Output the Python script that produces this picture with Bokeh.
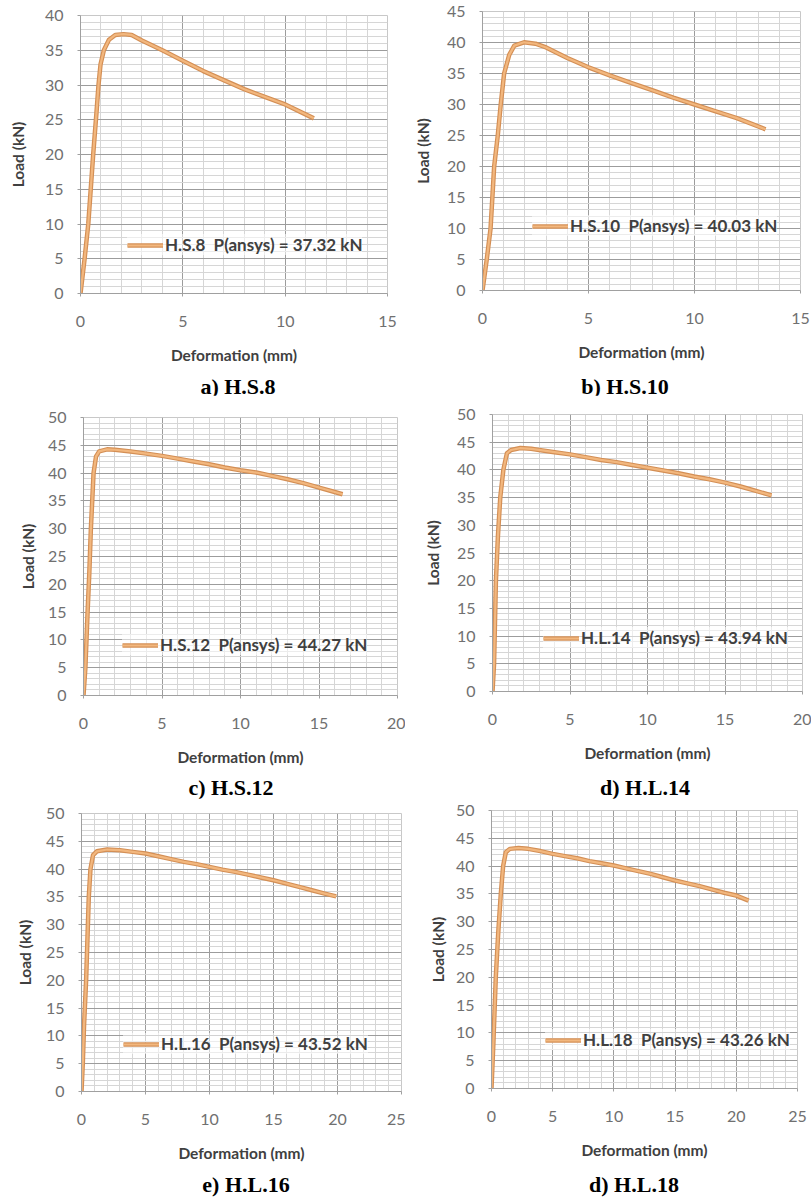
from bokeh.plotting import figure
from bokeh.layouts import column, row
from bokeh.models import Div, Legend, LegendItem, Range1d, SingleIntervalTicker
from bokeh.embed import file_html
from bokeh.resources import INLINE

# ---------------- data ----------------
hs8_x = [0, 0.2, 0.38, 0.62, 0.78, 0.88, 0.98, 1.14, 1.39, 1.7, 2.1, 2.5, 3.0, 4.0, 5.0, 6.0, 7.0, 8.0, 9.0, 10.0, 11.4]
hs8_y = [0, 5, 10, 20, 26, 30, 33, 35, 36.5, 37.2, 37.32, 37.2, 36.4, 35.0, 33.5, 32.0, 30.7, 29.4, 28.3, 27.2, 25.2]

hs10_x = [0, 0.2, 0.38, 0.55, 0.72, 0.86, 1.02, 1.26, 1.5, 1.96, 2.5, 3.0, 4.0, 5.0, 6.0, 7.0, 8.0, 9.0, 10.0, 11.0, 12.0, 13.35]
hs10_y = [0, 5, 10, 20, 25, 30, 35, 38, 39.5, 40.03, 39.8, 39.2, 37.5, 36.0, 34.7, 33.5, 32.3, 31.1, 30.0, 28.9, 27.8, 26.0]

hs12_x = [0, 0.12, 0.26, 0.37, 0.47, 0.64, 0.8, 1.0, 1.5, 2.0, 3, 4, 5, 6, 7, 8, 9, 10, 11, 12, 13, 14, 15, 16, 16.5]
hs12_y = [0, 5, 15, 22, 30, 40, 43, 43.9, 44.27, 44.2, 43.9, 43.5, 43.1, 42.6, 42.1, 41.6, 41.0, 40.5, 40.1, 39.5, 38.9, 38.2, 37.4, 36.6, 36.2]

hl14_x = [0, 0.1, 0.22, 0.35, 0.5, 0.7, 0.93, 1.2, 1.8, 2.5, 3, 4, 5, 6, 7, 8, 9, 10, 11, 12, 13, 14, 15, 16, 17, 18]
hl14_y = [0, 5, 20, 28, 35, 40, 43, 43.6, 43.94, 43.8, 43.6, 43.2, 42.8, 42.3, 41.8, 41.4, 40.9, 40.4, 39.9, 39.4, 38.8, 38.3, 37.7, 37.0, 36.2, 35.4]

hl16_x = [0, 0.1, 0.2, 0.36, 0.57, 0.7, 0.9, 1.2, 2.0, 3, 4, 5, 6, 7, 8, 9, 10, 11, 12, 13, 14, 15, 16, 17, 18, 19, 19.9]
hl16_y = [0, 5, 12, 20, 35, 40, 42.5, 43.2, 43.52, 43.4, 43.1, 42.8, 42.3, 41.8, 41.3, 40.9, 40.4, 39.9, 39.5, 39.0, 38.5, 38.0, 37.4, 36.8, 36.2, 35.6, 35.1]

hl18_x = [0, 0.15, 0.35, 0.55, 0.76, 0.95, 1.17, 1.5, 2.2, 3, 4, 5, 6, 7, 8, 9, 10, 11, 12, 13, 14, 15, 16, 17, 18, 19, 20, 21]
hl18_y = [0, 8, 20, 28, 35, 40, 42.5, 43.1, 43.26, 43.1, 42.7, 42.2, 41.8, 41.4, 40.9, 40.5, 40.1, 39.6, 39.1, 38.6, 38.0, 37.4, 36.9, 36.4, 35.8, 35.2, 34.7, 33.8]

legend_labels = [
    "H.S.8  P(ansys) = 37.32 kN",
    "H.S.10  P(ansys) = 40.03 kN",
    "H.S.12  P(ansys) = 44.27 kN",
    "H.L.14  P(ansys) = 43.94 kN",
    "H.L.16  P(ansys) = 43.52 kN",
    "H.L.18  P(ansys) = 43.26 kN",
]
captions = ["a) H.S.8", "b) H.S.10", "c) H.S.12", "d) H.L.14", "e) H.L.16", "d) H.L.18"]
x_max = [15, 15, 20, 20, 25, 25]
y_max = [40, 45, 50, 50, 50, 50]
x_label = "Deformation (mm)"
y_label = "Load (kN)"

series_x = [hs8_x, hs10_x, hs12_x, hl14_x, hl16_x, hl18_x]
series_y = [hs8_y, hs10_y, hs12_y, hl14_y, hl16_y, hl18_y]

# ---------------- layout (pixels) ----------------
fig_h = [371, 382, 374]      # figure height per row
cap_h = [24, 21, 26]         # caption strip height per row
cap_dy = [4, 0, 0]           # caption nudge per row
# W, left, frame_w, top, frame_h, legend_x, legend_y, ylabel_offset, caption_center_x
geom = [
    (405, 80, 307, 15, 278, 47, 38, 62, 238),
    (406, 77, 318, 11, 279, 50, 54, 59, 220),
    (405, 83, 314, 22, 278, 39, 40, 55, 231),
    (406, 87, 310, 19, 277, 51, 43, 59, 240),
    (405, 81, 320, 15, 278, 42, 37, 56, 246),
    (406, 86, 306, 12, 278, 54, 38, 53, 229),
]

panels = []
for i in range(6):
    W, L, FW, T, FH, lx, ly, yoff, ccx = geom[i]
    r = i // 2
    H = fig_h[r]
    p = figure(frame_width=FW, frame_height=FH, output_backend="svg", toolbar_location=None,
               x_range=Range1d(0, x_max[i]), y_range=Range1d(0, y_max[i]),
               min_border_left=L, min_border_right=W - L - FW,
               min_border_top=T, min_border_bottom=H - T - FH)
    p.background_fill_color = "white"
    p.border_fill_color = "white"
    p.outline_line_color = "#c8c8c8"

    for ax, lab in ((p.xaxis[0], x_label), (p.yaxis[0], y_label)):
        ax.ticker = SingleIntervalTicker(interval=5, num_minor_ticks=5)
        ax.axis_label = lab
        ax.axis_label_text_font = "Lato"
        ax.axis_label_text_font_style = "bold"
        ax.axis_label_text_font_size = "15.5px"
        ax.axis_label_text_color = "#404040"
        ax.major_label_text_font = "Lato"
        ax.major_label_text_font_size = "16px"
        ax.major_label_text_color = "#707070"
        ax.axis_line_color = "#a0a0a0"
        ax.major_tick_line_color = "#a0a0a0"
        ax.major_tick_in = 0
        ax.major_tick_out = 3
        ax.minor_tick_line_color = None

    p.xaxis[0].major_label_standoff = 18
    p.xaxis[0].axis_label_standoff = 16
    p.yaxis[0].major_label_standoff = 13
    p.yaxis[0].axis_label_standoff = max(yoff - 47, 4)

    for g in (p.xgrid[0], p.ygrid[0]):
        g.grid_line_color = "#9c9c9c"
        g.grid_line_width = 1
        g.minor_grid_line_color = "#d6d6d6"
        g.minor_grid_line_width = 1

    # curve: darker rim + lighter core
    rim = p.line(series_x[i], series_y[i], line_color="#d48f55", line_width=4.5, line_join="round")
    core = p.line(series_x[i], series_y[i], line_color="#f2b77e", line_width=2.2, line_join="round")

    leg = Legend(items=[LegendItem(label=legend_labels[i], renderers=[rim, core])],
                 location=(lx, ly), padding=0, margin=0, spacing=0,
                 glyph_width=36, glyph_height=16, label_height=16, label_standoff=2,
                 label_text_font="Lato", label_text_font_style="bold",
                 label_text_font_size="17px", label_text_color="#404040",
                 border_line_alpha=0, background_fill_color="white",
                 background_fill_alpha=0.55)
    p.add_layout(leg)

    ch = cap_h[r]
    html = ('<div style="position:relative; top:%dpx; width:200px; margin-left:%dpx; '
            'text-align:center; font-family:\'Liberation Serif\'; font-weight:bold; '
            'font-size:22px; line-height:%dpx; color:#000; white-space:nowrap;">%s</div>'
            ) % (cap_dy[r], ccx - 100, ch, captions[i])
    d = Div(text=html, width=W, height=ch, margin=0)
    panels.append(column(p, d, spacing=0))

layout = column(row(panels[0], panels[1]), row(panels[2], panels[3]), row(panels[4], panels[5]))

open("out.html", "w").write(file_html(layout, INLINE))
